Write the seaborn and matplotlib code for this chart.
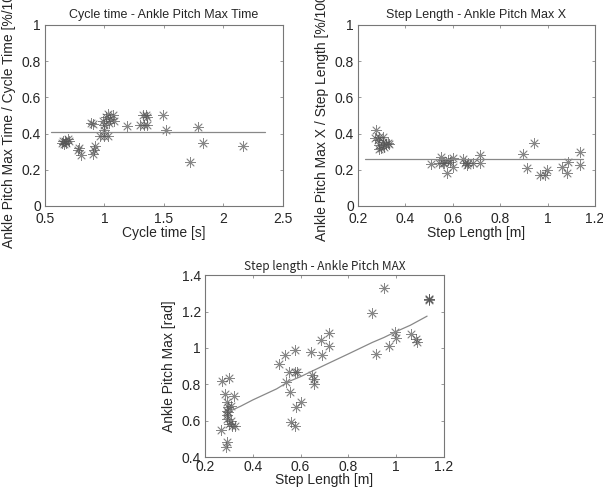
import numpy as np
import pandas as pd
import seaborn as sns
import matplotlib.pyplot as plt
from matplotlib.ticker import FuncFormatter


# cycle time vs ankle pitch max time
cycle_time = [0.64, 0.65, 0.66, 0.67, 0.68, 0.69, 0.70, 0.78, 0.79, 0.80,
              0.89, 0.90, 0.90, 0.91, 0.92, 0.96, 1.00, 1.03, 0.99, 1.01,
              1.03, 1.05, 1.07, 1.00, 1.04, 1.08, 1.00, 1.19, 1.30, 1.32,
              1.35, 1.36, 1.36, 1.33, 1.49, 1.52, 1.72, 1.79, 1.83, 2.16]
max_time_ratio = [0.35, 0.36, 0.34, 0.36, 0.35, 0.37, 0.36, 0.31, 0.32, 0.28,
                  0.46, 0.455, 0.29, 0.31, 0.33, 0.385, 0.385, 0.385, 0.47, 0.49,
                  0.51, 0.48, 0.50, 0.45, 0.46, 0.47, 0.42, 0.44, 0.445, 0.50,
                  0.50, 0.49, 0.445, 0.445, 0.505, 0.42, 0.245, 0.435, 0.35, 0.33]
mean_time_x = [0.55, 2.35]
mean_time_y = [0.41, 0.41]

# step length vs ankle pitch max x
step_len_a = [0.274, 0.27, 0.283, 0.29, 0.297, 0.304, 0.31, 0.318, 0.325, 0.29,
              0.304, 0.33, 0.288,
              0.51, 0.54, 0.55, 0.56, 0.575, 0.58, 0.59, 0.60, 0.60, 0.565,
              0.644, 0.65, 0.66, 0.665, 0.686, 0.714, 0.714,
              0.897, 0.912, 0.943, 0.97, 0.99, 0.996, 1.06, 1.08, 1.086, 1.135, 1.135]
max_x_ratio = [0.418, 0.373, 0.364, 0.336, 0.318, 0.355, 0.327, 0.345, 0.35, 0.38,
               0.38, 0.345, 0.315,
               0.23, 0.236, 0.27, 0.236, 0.185, 0.255, 0.245, 0.264, 0.218, 0.236,
               0.258, 0.236, 0.227, 0.236, 0.236, 0.28, 0.236,
               0.29, 0.21, 0.35, 0.173, 0.173, 0.20, 0.218, 0.18, 0.245, 0.30, 0.227]
mean_x_x = [0.228, 1.15]
mean_x_y = [0.258, 0.258]

# step length vs ankle pitch max
step_len_b = [0.266, 0.273, 0.284, 0.287, 0.294, 0.30, 0.29, 0.29, 0.294, 0.298,
              0.298, 0.308, 0.30, 0.315, 0.308, 0.322, 0.326, 0.294,
              0.51, 0.534, 0.54, 0.552, 0.555, 0.559, 0.578, 0.576, 0.587, 0.578,
              0.58, 0.60, 0.643, 0.646, 0.657, 0.657, 0.685, 0.69, 0.72, 0.72,
              0.898, 0.916, 0.948, 0.97, 0.996, 1.0, 1.063, 1.084, 1.088,
              1.14, 1.14, 1.14]
pitch_max = [0.546, 0.82, 0.747, 0.455, 0.48, 0.832, 0.655, 0.63, 0.61, 0.646,
             0.674, 0.683, 0.58, 0.573, 0.60, 0.737, 0.573, 0.70,
             0.91, 0.96, 0.814, 0.865, 0.76, 0.595, 0.99, 0.865, 0.865, 0.573,
             0.674, 0.705, 0.975, 0.85, 0.83, 0.80, 1.044, 0.96, 1.08, 1.01,
             1.194, 0.965, 1.33, 1.01, 1.088, 1.057, 1.075, 1.048, 1.03,
             1.267, 1.262, 1.272]
fit_x = [0.30, 0.35, 0.40, 0.50, 0.55, 0.60, 0.70, 0.80, 0.90, 0.95, 1.00, 1.06, 1.13]
fit_y = [0.65, 0.68, 0.714, 0.775, 0.815, 0.842, 0.905, 0.967, 1.03, 1.058, 1.09, 1.125, 1.175]


sns.set_style("ticks")
plt.rcParams["font.family"] = ["Liberation Sans", "DejaVu Sans"]
plt.rcParams["xtick.direction"] = "in"
plt.rcParams["ytick.direction"] = "in"
plt.rcParams["xtick.top"] = True
plt.rcParams["ytick.right"] = True

fig = plt.figure(figsize=(6.03, 4.90), dpi=100)
ax1 = fig.add_axes([0.0746, 0.5796, 0.3947, 0.3694])
ax2 = fig.add_axes([0.5937, 0.5796, 0.393, 0.3694])
ax3 = fig.add_axes([0.340, 0.0673, 0.396, 0.371])

star = (8, 2, 0)
fmt = FuncFormatter(lambda v, p: "%g" % round(v, 2))


def draw(ax, x, y, lx, ly):
    sns.lineplot(x=lx, y=ly, ax=ax, color="#888888", linewidth=0.9)
    sns.scatterplot(x=x, y=y, ax=ax, marker=star, s=50, color="#555555",
                    linewidth=0.6, alpha=0.7)
    for sp in ax.spines.values():
        sp.set_visible(True)
        sp.set_color("#777777")
        sp.set_linewidth(0.8)
    ax.tick_params(length=2, width=0.6, color="#888888", labelsize=10)
    ax.tick_params(axis="x", pad=4)
    ax.tick_params(axis="y", pad=3)
    ax.xaxis.set_major_formatter(fmt)
    ax.yaxis.set_major_formatter(fmt)


draw(ax1, cycle_time, max_time_ratio, mean_time_x, mean_time_y)
ax1.set_xlim(0.5, 2.5)
ax1.set_ylim(0, 1)
ax1.set_xticks([0.5, 1, 1.5, 2, 2.5])
ax1.set_yticks([0, 0.2, 0.4, 0.6, 0.8, 1])
ax1.set_title("Cycle time - Ankle Pitch Max Time", fontsize=9, pad=5)
ax1.set_xlabel("Cycle time [s]", fontsize=10, labelpad=0)
ax1.set_ylabel("Ankle Pitch Max Time / Cycle Time [%/100]", fontsize=10, labelpad=4)

draw(ax2, step_len_a, max_x_ratio, mean_x_x, mean_x_y)
ax2.set_xlim(0.2, 1.2)
ax2.set_ylim(0, 1)
ax2.set_xticks([0.2, 0.4, 0.6, 0.8, 1, 1.2])
ax2.set_yticks([0, 0.2, 0.4, 0.6, 0.8, 1])
ax2.set_title("Step Length - Ankle Pitch Max X", fontsize=9, pad=5)
ax2.set_xlabel("Step Length [m]", fontsize=10, labelpad=0)
ax2.set_ylabel("Ankle Pitch Max X / Step Length [%/100]", fontsize=10, labelpad=4)

draw(ax3, step_len_b, pitch_max, fit_x, fit_y)
ax3.set_xlim(0.2, 1.2)
ax3.set_ylim(0.4, 1.4)
ax3.set_xticks([0.2, 0.4, 0.6, 0.8, 1, 1.2])
ax3.set_yticks([0.4, 0.6, 0.8, 1, 1.2, 1.4])
ax3.tick_params(axis="x", pad=2.5)
ax3.set_title("Step length - Ankle Pitch MAX", fontsize=8.5, pad=4,
              family=["Noto Sans CJK JP", "DejaVu Sans"])
ax3.set_xlabel("Step Length [m]", fontsize=10, labelpad=-1)
ax3.set_ylabel("Ankle Pitch Max [rad]", fontsize=10, labelpad=4)

fig.savefig("out.png", dpi=100)
